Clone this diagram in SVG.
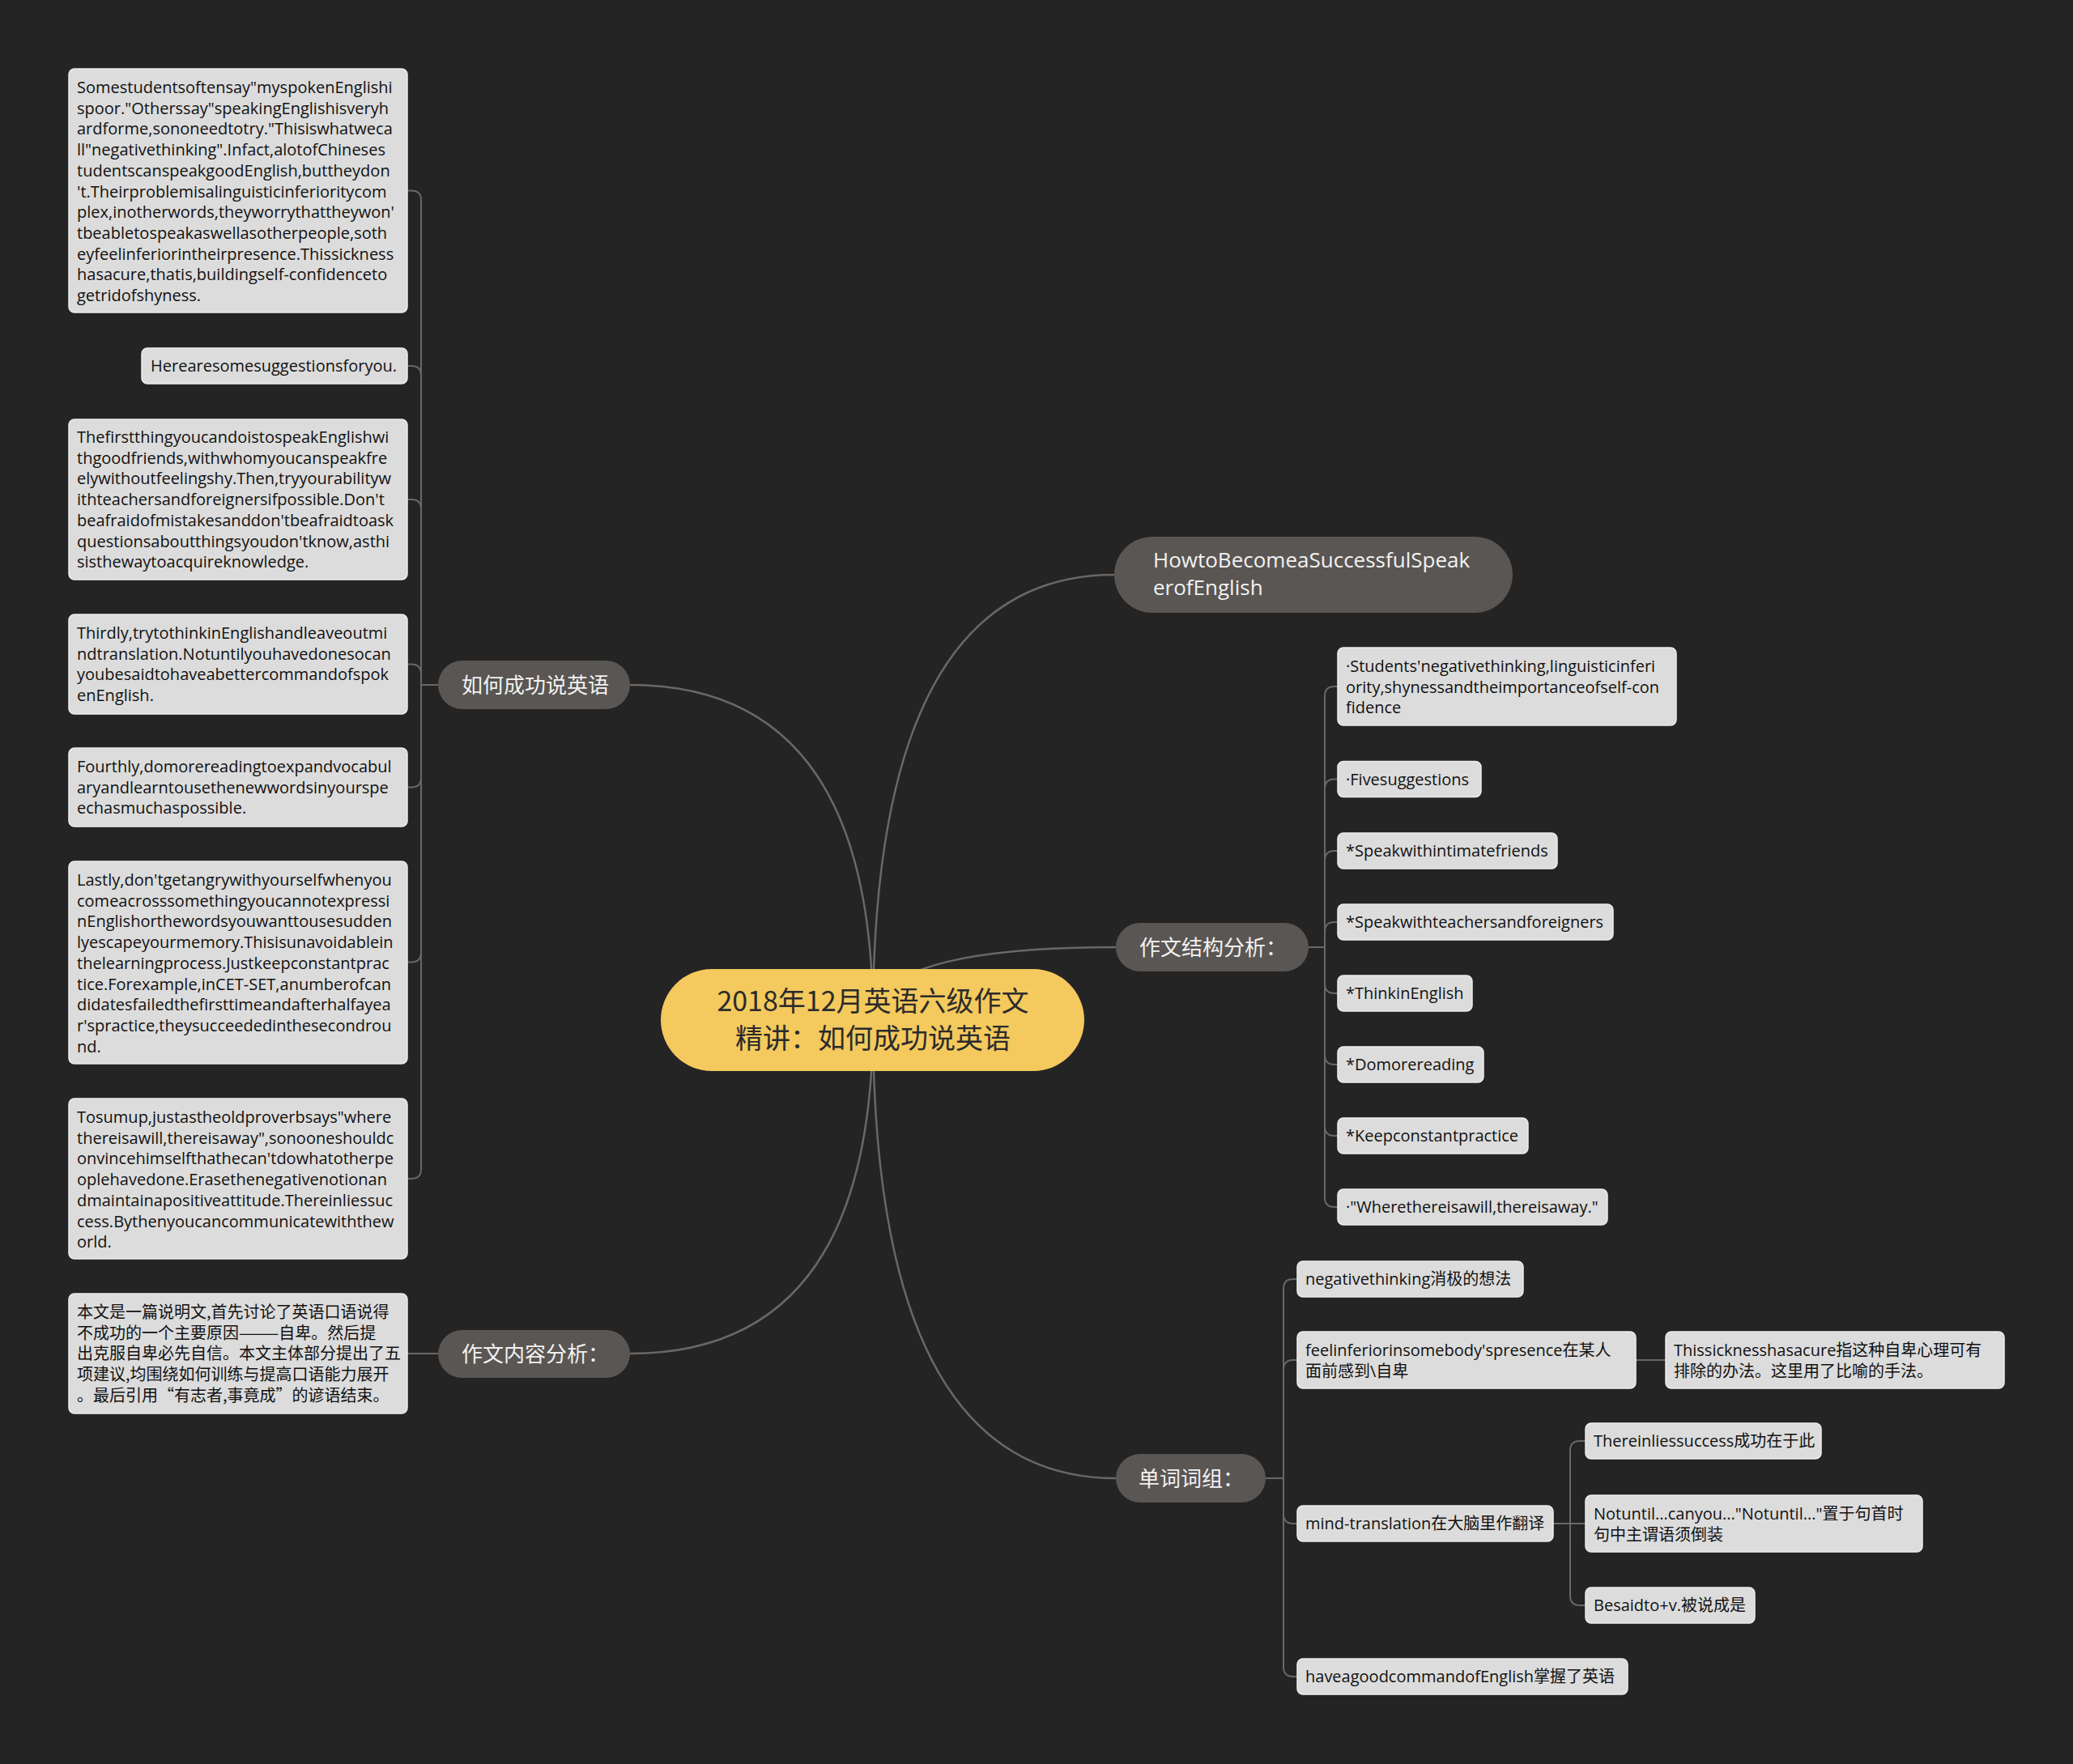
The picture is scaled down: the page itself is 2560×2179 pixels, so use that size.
<svg xmlns="http://www.w3.org/2000/svg" width="2560" height="2179" viewBox="0 0 2560 2179">
<style>
.bg{fill:#242424}
.root rect{fill:#f4c95d}
.root text{font-family:"Noto Sans CJK SC","Open Sans",sans-serif;font-size:34px;fill:#2b2b2b;text-anchor:middle}
.br rect{fill:#5a5653}
.br text{font-family:"Open Sans","Noto Sans CJK SC",sans-serif;font-size:26px;fill:#f2f2f2}
.lf rect{fill:#dcdcdc;stroke:#ececec;stroke-width:1.5}
.lf text{font-family:"Open Sans","Noto Sans CJK SC",sans-serif;font-size:20px;fill:#111}
.lf text.cn{font-family:"Noto Sans CJK SC",sans-serif}
.ln path{fill:none;stroke:#6a6765;stroke-width:2.5}
.ln path.sm{stroke-width:2}
</style>
<rect class="bg" x="0" y="0" width="2560" height="2179"/>

<g class="ln" id="connectors">
<path d="M1078 1260 Q1078 710 1376 710"/>
<path d="M1078 1260 Q1078 1170 1378 1170"/>
<path d="M1078 1260 Q1078 1826 1378 1826"/>
<path d="M1078 1260 Q1078 846 778 846"/>
<path d="M1078 1260 Q1078 1672 778 1672"/>
<path class="sm" d="M541 846 H520 V247.5 Q520 235.5 508 235.5 H503"/>
<path class="sm" d="M541 846 H520 V464 Q520 452 508 452 H503"/>
<path class="sm" d="M541 846 H520 V629 Q520 617 508 617 H503"/>
<path class="sm" d="M541 846 H520 V832.5 Q520 820.5 508 820.5 H503"/>
<path class="sm" d="M541 846 H520 V960.5 Q520 972.5 508 972.5 H503"/>
<path class="sm" d="M541 846 H520 V1176.5 Q520 1188.5 508 1188.5 H503"/>
<path class="sm" d="M541 846 H520 V1444 Q520 1456 508 1456 H503"/>
<path class="sm" d="M541 1672 H503"/>
<path class="sm" d="M1616 1170 H1636 V860 Q1636 848 1648 848 H1652"/>
<path class="sm" d="M1616 1170 H1636 V974.5 Q1636 962.5 1648 962.5 H1652"/>
<path class="sm" d="M1616 1170 H1636 V1063 Q1636 1051 1648 1051 H1652"/>
<path class="sm" d="M1616 1170 H1636 V1151 Q1636 1139 1648 1139 H1652"/>
<path class="sm" d="M1616 1170 H1636 V1215 Q1636 1227 1648 1227 H1652"/>
<path class="sm" d="M1616 1170 H1636 V1303 Q1636 1315 1648 1315 H1652"/>
<path class="sm" d="M1616 1170 H1636 V1391 Q1636 1403 1648 1403 H1652"/>
<path class="sm" d="M1616 1170 H1636 V1479 Q1636 1491 1648 1491 H1652"/>
<path class="sm" d="M1563 1826 H1585 V1592 Q1585 1580 1597 1580 H1602"/>
<path class="sm" d="M1563 1826 H1585 V1692 Q1585 1680 1597 1680 H1602"/>
<path class="sm" d="M1563 1826 H1585 V1870 Q1585 1882 1597 1882 H1602"/>
<path class="sm" d="M1563 1826 H1585 V2059 Q1585 2071 1597 2071 H1602"/>
<path class="sm" d="M2020 1680 H2057"/>
<path class="sm" d="M1918 1882 H1939 V1792 Q1939 1780 1951 1780 H1958"/>
<path class="sm" d="M1918 1882 H1958"/>
<path class="sm" d="M1918 1882 H1939 V1971 Q1939 1983 1951 1983 H1958"/>
</g>

<g class="root" id="root">
<rect x="816" y="1197" width="523" height="126" rx="63"/>
<text x="1078" y="1249">2018年12月英语六级作文</text>
<text x="1078" y="1295">精讲：如何成功说英语</text>
</g>

<g class="br" id="b-howto">
<rect x="1376" y="663" width="492" height="94" rx="47"/>
<text x="1424" y="701">HowtoBecomeaSuccessfulSpeak</text>
<text x="1424" y="735">erofEnglish</text>
</g>
<g class="br" id="b-structure">
<rect x="1378" y="1140" width="238" height="60" rx="30"/>
<text x="1407" y="1180">作文结构分析：</text>
</g>
<g class="br" id="b-words">
<rect x="1378" y="1796" width="185" height="60" rx="30"/>
<text x="1406" y="1836">单词词组：</text>
</g>
<g class="br" id="b-how">
<rect x="541" y="816" width="237" height="60" rx="30"/>
<text x="570" y="856">如何成功说英语</text>
</g>
<g class="br" id="b-content">
<rect x="541" y="1643" width="237" height="59" rx="29.5"/>
<text x="570" y="1682">作文内容分析：</text>
</g>

<g class="lf" id="l1">
<rect x="85" y="85" width="418" height="301" rx="7"/>
<text x="95" y="115">Somestudentsoftensay"myspokenEnglishi</text>
<text x="95" y="140.7">spoor."Otherssay"speakingEnglishisveryh</text>
<text x="95" y="166.4">ardforme,sononeedtotry."Thisiswhatweca</text>
<text x="95" y="192.1">ll"negativethinking".Infact,alotofChineses</text>
<text x="95" y="217.8">tudentscanspeakgoodEnglish,buttheydon</text>
<text x="95" y="243.5">'t.Theirproblemisalinguisticinferioritycom</text>
<text x="95" y="269.2">plex,inotherwords,theyworrythattheywon'</text>
<text x="95" y="294.9">tbeabletospeakaswellasotherpeople,soth</text>
<text x="95" y="320.6">eyfeelinferiorintheirpresence.Thissickness</text>
<text x="95" y="346.3">hasacure,thatis,buildingself-confidenceto</text>
<text x="95" y="372">getridofshyness.</text>
</g>
<g class="lf" id="l2">
<rect x="175" y="430" width="328" height="44" rx="7"/>
<text x="186" y="459">Herearesomesuggestionsforyou.</text>
</g>
<g class="lf" id="l3">
<rect x="85" y="518" width="418" height="198" rx="7"/>
<text x="95" y="547">ThefirstthingyoucandoistospeakEnglishwi</text>
<text x="95" y="572.7">thgoodfriends,withwhomyoucanspeakfre</text>
<text x="95" y="598.4">elywithoutfeelingshy.Then,tryyourabilityw</text>
<text x="95" y="624.1">ithteachersandforeignersifpossible.Don't</text>
<text x="95" y="649.8">beafraidofmistakesanddon'tbeafraidtoask</text>
<text x="95" y="675.5">questionsaboutthingsyoudon'tknow,asthi</text>
<text x="95" y="701.2">sisthewaytoacquireknowledge.</text>
</g>
<g class="lf" id="l4">
<rect x="85" y="759" width="418" height="123" rx="7"/>
<text x="95" y="789">Thirdly,trytothinkinEnglishandleaveoutmi</text>
<text x="95" y="814.7">ndtranslation.Notuntilyouhavedonesocan</text>
<text x="95" y="840.4">youbesaidtohaveabettercommandofspok</text>
<text x="95" y="866.1">enEnglish.</text>
</g>
<g class="lf" id="l5">
<rect x="85" y="924" width="418" height="97" rx="7"/>
<text x="95" y="954">Fourthly,domorereadingtoexpandvocabul</text>
<text x="95" y="979.7">aryandlearntousethenewwordsinyourspe</text>
<text x="95" y="1005.4">echasmuchaspossible.</text>
</g>
<g class="lf" id="l6">
<rect x="85" y="1064" width="418" height="250" rx="7"/>
<text x="95" y="1094">Lastly,don'tgetangrywithyourselfwhenyou</text>
<text x="95" y="1119.7">comeacrosssomethingyoucannotexpressi</text>
<text x="95" y="1145.4">nEnglishorthewordsyouwanttousesudden</text>
<text x="95" y="1171.1">lyescapeyourmemory.Thisisunavoidablein</text>
<text x="95" y="1196.8">thelearningprocess.Justkeepconstantprac</text>
<text x="95" y="1222.5">tice.Forexample,inCET-SET,anumberofcan</text>
<text x="95" y="1248.2">didatesfailedthefirsttimeandafterhalfayea</text>
<text x="95" y="1273.9">r'spractice,theysucceededinthesecondrou</text>
<text x="95" y="1299.6">nd.</text>
</g>
<g class="lf" id="l7">
<rect x="85" y="1357" width="418" height="198" rx="7"/>
<text x="95" y="1387">Tosumup,justastheoldproverbsays"where</text>
<text x="95" y="1412.7">thereisawill,thereisaway",sonooneshouldc</text>
<text x="95" y="1438.4">onvincehimselfthathecan'tdowhatotherpe</text>
<text x="95" y="1464.1">oplehavedone.Erasethenegativenotionan</text>
<text x="95" y="1489.8">dmaintainapositiveattitude.Thereinliessuc</text>
<text x="95" y="1515.5">cess.Bythenyoucancommunicatewiththew</text>
<text x="95" y="1541.2">orld.</text>
</g>
<g class="lf" id="l8">
<rect x="85" y="1598" width="418" height="148" rx="7"/>
<text class="cn" x="95" y="1628">本文是一篇说明文,首先讨论了英语口语说得</text>
<text class="cn" x="95" y="1653.7">不成功的一个主要原因———自卑。然后提</text>
<text class="cn" x="95" y="1679.4">出克服自卑必先自信。本文主体部分提出了五</text>
<text class="cn" x="95" y="1705.1">项建议,均围绕如何训练与提高口语能力展开</text>
<text class="cn" x="95" y="1730.8">。最后引用“有志者,事竟成”的谚语结束。</text>
</g>

<g class="lf" id="r1">
<rect x="1652" y="800" width="418" height="96" rx="7"/>
<text x="1662" y="830">·Students'negativethinking,linguisticinferi</text>
<text x="1662" y="855.7">ority,shynessandtheimportanceofself-con</text>
<text x="1662" y="881.4">fidence</text>
</g>
<g class="lf" id="r2">
<rect x="1652" y="940.5" width="177" height="44" rx="7"/>
<text x="1662" y="969.5">·Fivesuggestions</text>
</g>
<g class="lf" id="r3">
<rect x="1652" y="1029" width="271" height="44" rx="7"/>
<text x="1662" y="1058">*Speakwithintimatefriends</text>
</g>
<g class="lf" id="r4">
<rect x="1652" y="1117" width="340" height="44" rx="7"/>
<text x="1662" y="1146">*Speakwithteachersandforeigners</text>
</g>
<g class="lf" id="r5">
<rect x="1652" y="1205" width="166" height="44" rx="7"/>
<text x="1662" y="1234">*ThinkinEnglish</text>
</g>
<g class="lf" id="r6">
<rect x="1652" y="1293" width="180" height="44" rx="7"/>
<text x="1662" y="1322">*Domorereading</text>
</g>
<g class="lf" id="r7">
<rect x="1652" y="1381" width="235" height="44" rx="7"/>
<text x="1662" y="1410">*Keepconstantpractice</text>
</g>
<g class="lf" id="r8">
<rect x="1652" y="1469" width="333" height="44" rx="7"/>
<text x="1662" y="1498">·"Wherethereisawill,thereisaway."</text>
</g>

<g class="lf" id="w1">
<rect x="1602" y="1558" width="279" height="44" rx="7"/>
<text x="1612" y="1587">negativethinking消极的想法</text>
</g>
<g class="lf" id="w2">
<rect x="1602" y="1645" width="418" height="70" rx="7"/>
<text x="1612" y="1675">feelinferiorinsomebody'spresence在某人</text>
<text x="1612" y="1700.7">面前感到\自卑</text>
</g>
<g class="lf" id="w2a">
<rect x="2057" y="1645" width="418" height="70" rx="7"/>
<text x="2067" y="1675">Thissicknesshasacure指这种自卑心理可有</text>
<text x="2067" y="1700.7">排除的办法。这里用了比喻的手法。</text>
</g>
<g class="lf" id="w3">
<rect x="1602" y="1860" width="316" height="44" rx="7"/>
<text x="1612" y="1889">mind-translation在大脑里作翻译</text>
</g>
<g class="lf" id="w3a">
<rect x="1958" y="1758" width="291" height="44" rx="7"/>
<text x="1968" y="1787">Thereinliessuccess成功在于此</text>
</g>
<g class="lf" id="w3b">
<rect x="1958" y="1847" width="416" height="70" rx="7"/>
<text x="1968" y="1877">Notuntil...canyou..."Notuntil..."置于句首时</text>
<text x="1968" y="1902.7">句中主谓语须倒装</text>
</g>
<g class="lf" id="w3c">
<rect x="1958" y="1961" width="209" height="44" rx="7"/>
<text x="1968" y="1990">Besaidto+v.被说成是</text>
</g>
<g class="lf" id="w4">
<rect x="1602" y="2049" width="408" height="44" rx="7"/>
<text x="1612" y="2078">haveagoodcommandofEnglish掌握了英语</text>
</g>
</svg>
